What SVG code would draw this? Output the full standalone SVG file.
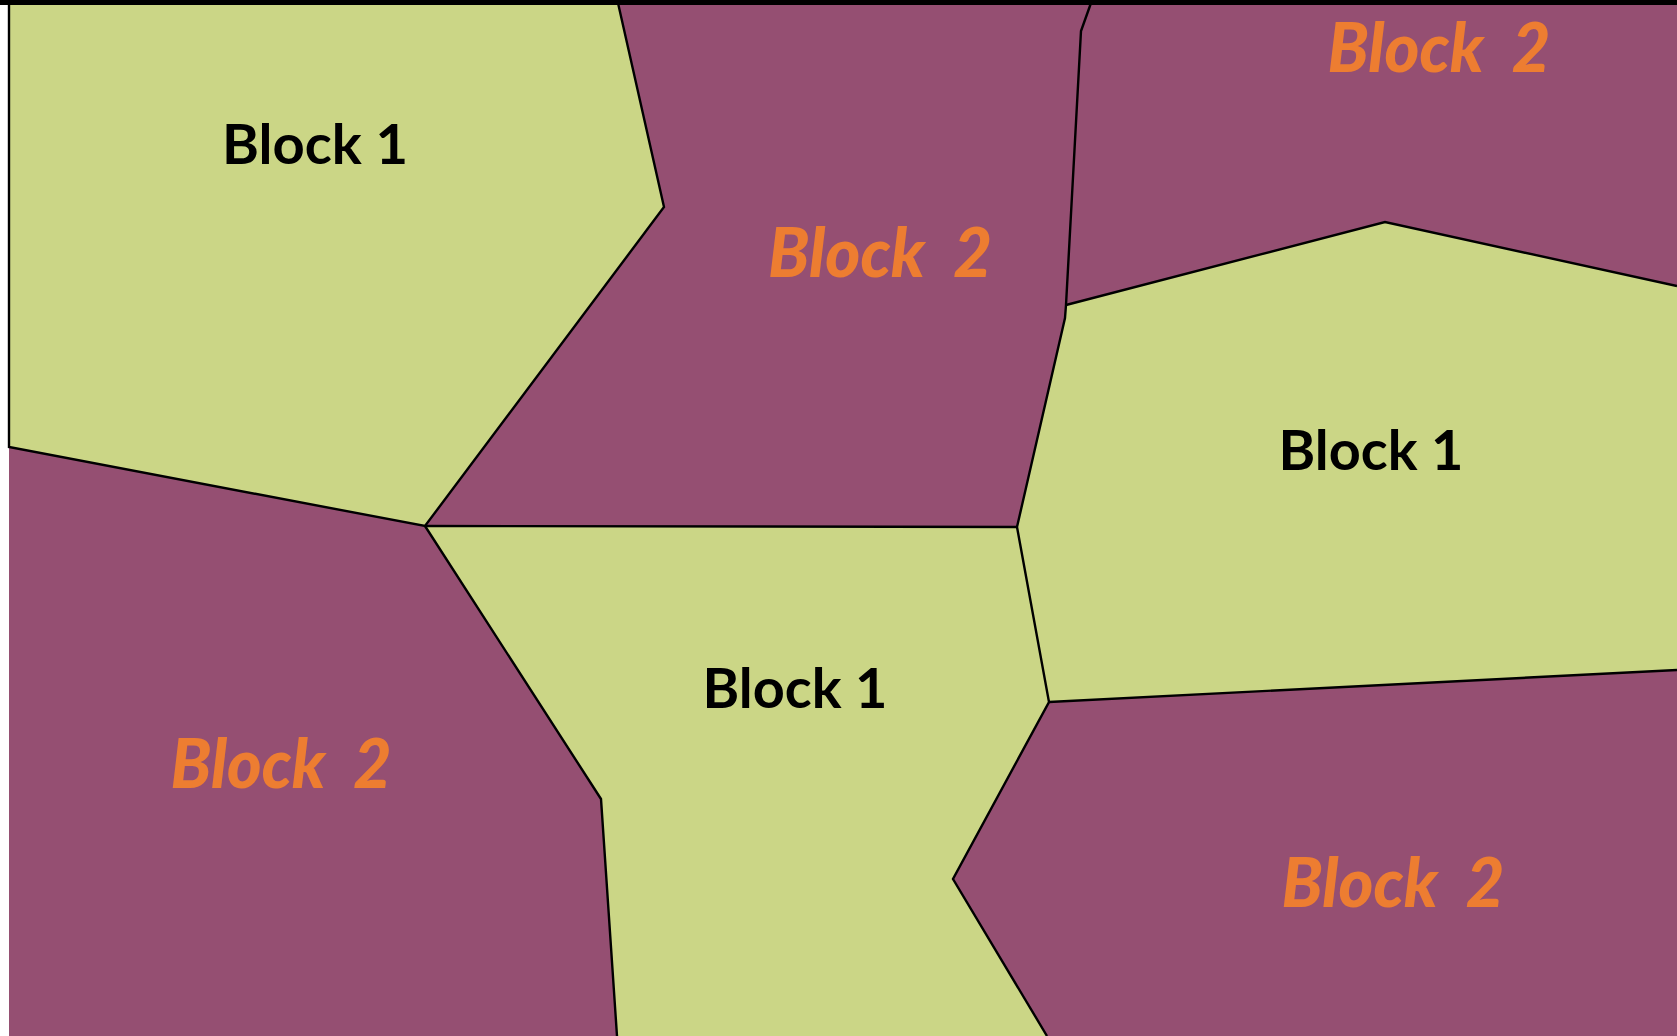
<svg xmlns="http://www.w3.org/2000/svg" width="1677" height="1036" viewBox="0 0 1677 1036">
  <style>
    .g { fill: #CBD686; }
    .p { fill: #954F72; }
    .edge { fill: none; stroke: #000; stroke-width: 2.4; stroke-linejoin: miter; }
    .b1 { font-family: Lato, "Liberation Sans", sans-serif; font-weight: bold; font-size: 56px; fill: #000; text-anchor: middle; }
    .b2 { font-family: Lato, "Liberation Sans", sans-serif; font-weight: 900; font-style: italic; font-size: 68px; fill: #ED7D31; text-anchor: middle; word-spacing: 14px; }
  </style>
  <rect x="0" y="0" width="1677" height="1036" fill="#fff"/>
  <g id="region-tl-block1">
    <polygon class="g" points="9,3 618,3 664,207 425,526 9,447"/>
    <text class="b1" x="315" y="164" textLength="186" lengthAdjust="spacingAndGlyphs">Block 1</text>
  </g>
  <g id="region-tm-block2">
    <polygon class="p" points="618,3 1091,3 1081,31 1066,305 1065,318 1017,527 425,526 664,207"/>
    <text class="b2" x="880" y="277" textLength="224" lengthAdjust="spacingAndGlyphs">Block 2</text>
  </g>
  <g id="region-tr-block2">
    <polygon class="p" points="1091,3 1677,3 1677,286 1385,222 1066,305 1081,31"/>
    <text class="b2" x="1439" y="72" textLength="223" lengthAdjust="spacingAndGlyphs">Block 2</text>
  </g>
  <g id="region-r-block1">
    <polygon class="g" points="1066,305 1385,222 1677,286 1677,670 1049,702 1017,527 1065,318"/>
    <text class="b1" x="1371" y="470" textLength="185" lengthAdjust="spacingAndGlyphs">Block 1</text>
  </g>
  <g id="region-m-block1">
    <polygon class="g" points="425,526 1017,527 1049,702 953,879 1047,1036 617,1036 601,799"/>
    <text class="b1" x="795" y="708" textLength="185" lengthAdjust="spacingAndGlyphs">Block 1</text>
  </g>
  <g id="region-bl-block2">
    <polygon class="p" points="9,447 425,526 601,799 617,1036 9,1036"/>
    <text class="b2" x="281" y="788" textLength="221" lengthAdjust="spacingAndGlyphs">Block 2</text>
  </g>
  <g id="region-br-block2">
    <polygon class="p" points="1049,702 1677,670 1677,1036 1047,1036 953,879"/>
    <text class="b2" x="1393" y="907" textLength="223" lengthAdjust="spacingAndGlyphs">Block 2</text>
  </g>
  <g id="boundaries">
    <polyline class="edge" points="9,3 9,447 425,526 664,207 618,3"/>
    <polyline class="edge" points="425,526 1017,527"/>
    <polyline class="edge" points="1091,3 1081,31 1066,305 1065,318 1017,527 1049,702 953,879 1047,1036"/>
    <polyline class="edge" points="1066,305 1385,222 1677,286"/>
    <polyline class="edge" points="1049,702 1677,670"/>
    <polyline class="edge" points="425,526 601,799 617,1036"/>
  </g>
  <rect x="0" y="0" width="1677" height="5" fill="#000"/>
</svg>
